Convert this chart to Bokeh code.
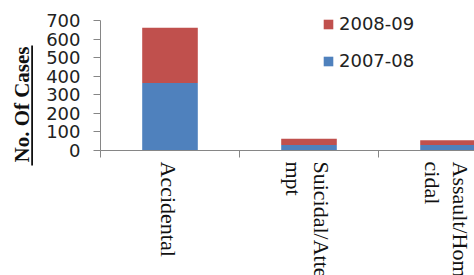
import math
from bokeh.plotting import figure
from bokeh.layouts import row, column
from bokeh.models import (Range1d, FixedTicker, Legend, LegendItem,
                          ColumnDataSource)
from bokeh.embed import file_html
from bokeh.resources import INLINE

# ---- data ----
categories = ["Accidental", "Suicidal/Atte\nmpt", "Assault/Homi\ncidal"]
series_names = ["2007-08", "2008-09"]
cases_2007_08 = [363, 30, 30]
cases_2008_09 = [298, 33, 25]
y_ticks = [0, 100, 200, 300, 400, 500, 600, 700]
y_max = 700
y_label = "No. Of Cases"
colors = ["#4F81BD", "#C0504D"]

# ---- layout constants (pixels) ----
TOTAL_W, TOTAL_H = 474, 275
LEFT_W = 40                 # strip holding the y title
MAIN_H = 161                # chart part (frame + x ticks)
FRAME_LEFT = 100            # page x of the y axis
Y_TOP_PX = 20               # page y of the top tick (700)
FRAME_TOP = 6               # frame reaches a bit higher so the legend is not clipped
FRAME_BOTTOM = 150
cat_px = 139.0
frame_w = TOTAL_W - FRAME_LEFT
x_end = frame_w / cat_px
y_end = y_max * (FRAME_BOTTOM - FRAME_TOP) / (FRAME_BOTTOM - Y_TOP_PX)
text_col = "#111111"
axis_col = "#868686"

xs = [i + 0.5 for i in range(len(categories))]
src = ColumnDataSource(dict(x=xs, s0=cases_2007_08, s1=cases_2008_09))
x_range = Range1d(0, x_end)

# ---- main chart ----
p = figure(width=TOTAL_W - LEFT_W, height=MAIN_H, x_range=x_range,
           y_range=Range1d(0, y_end), output_backend="svg", toolbar_location=None,
           min_border_left=FRAME_LEFT - LEFT_W, min_border_right=0,
           min_border_top=FRAME_TOP, min_border_bottom=MAIN_H - FRAME_BOTTOM)
p.outline_line_color = None
p.grid.visible = False

rs = p.vbar_stack(["s0", "s1"], x="x", width=0.4, color=colors, source=src,
                  line_color=None)

p.xaxis.ticker = FixedTicker(ticks=list(range(len(categories) + 1)))
p.xaxis.major_label_text_font_size = "0px"
p.xaxis.major_label_standoff = 0
p.xaxis.axis_line_color = axis_col
p.xaxis.major_tick_line_color = axis_col
p.xaxis.major_tick_out = 7
p.xaxis.major_tick_in = 0
p.xaxis.minor_tick_line_color = None

p.yaxis.ticker = FixedTicker(ticks=y_ticks)
p.yaxis.bounds = (0, y_max)
p.yaxis.axis_line_color = axis_col
p.yaxis.major_tick_line_color = axis_col
p.yaxis.major_tick_out = 7
p.yaxis.major_tick_in = 0
p.yaxis.minor_tick_line_color = None
p.yaxis.major_label_text_font = "DejaVu Sans"
p.yaxis.major_label_text_font_size = "18px"
p.yaxis.major_label_text_color = "#222222"
p.yaxis.major_label_standoff = 13

legend = Legend(items=[LegendItem(label=series_names[1], renderers=[rs[1]]),
                       LegendItem(label=series_names[0], renderers=[rs[0]])],
                location=(222, 79), padding=0, margin=0, spacing=16,
                glyph_width=12, glyph_height=12, label_standoff=5,
                label_height=21, label_text_font="DejaVu Sans",
                label_text_font_size="18px", label_text_color="#222222",
                border_line_color=None, background_fill_alpha=0)
p.add_layout(legend)

# ---- category labels strip (below chart, clipped at page bottom) ----
LAB_H = TOTAL_H - MAIN_H
px = figure(width=TOTAL_W - LEFT_W, height=LAB_H, x_range=x_range,
            y_range=Range1d(LAB_H, 0), output_backend="svg",
            toolbar_location=None, x_axis_location=None, y_axis_location=None,
            min_border_left=FRAME_LEFT - LEFT_W, min_border_right=0,
            min_border_top=0, min_border_bottom=0)
px.outline_line_color = None
px.grid.visible = False

line_gap = 28
lx, ly, lt = [], [], []
for i, cat in enumerate(categories):
    lines = cat.split("\n")
    n = len(lines)
    for j, txt in enumerate(lines):
        off = ((n - 1) / 2.0 - j) * line_gap - 2
        lx.append(xs[i] + off / cat_px)
        ly.append(0)
        lt.append(txt)
px.text(x=lx, y=ly, text=lt, angle=-math.pi / 2, text_align="left",
        text_baseline="middle", text_font="Liberation Serif",
        text_font_size="22px", text_color=text_col)

# ---- y title strip (bold, underlined) ----
pl = figure(width=LEFT_W, height=TOTAL_H, x_range=Range1d(0, LEFT_W),
            y_range=Range1d(0, TOTAL_H), output_backend="svg",
            toolbar_location=None, x_axis_location=None, y_axis_location=None,
            min_border=0)
pl.outline_line_color = None
pl.grid.visible = False
pl.text(x=[21.4], y=[TOTAL_H - 104], text=[y_label], angle=math.pi / 2,
        text_align="center", text_baseline="middle",
        text_font="Liberation Serif", text_font_style="bold",
        text_font_size="21px", text_color=text_col)
pl.quad(left=[30.7], right=[32.5], top=[TOTAL_H - 45], bottom=[TOTAL_H - 165],
        fill_color=text_col, line_color=None)

layout = row(pl, column(p, px, spacing=0), spacing=0)
open("out.html", "w").write(file_html(layout, INLINE))
